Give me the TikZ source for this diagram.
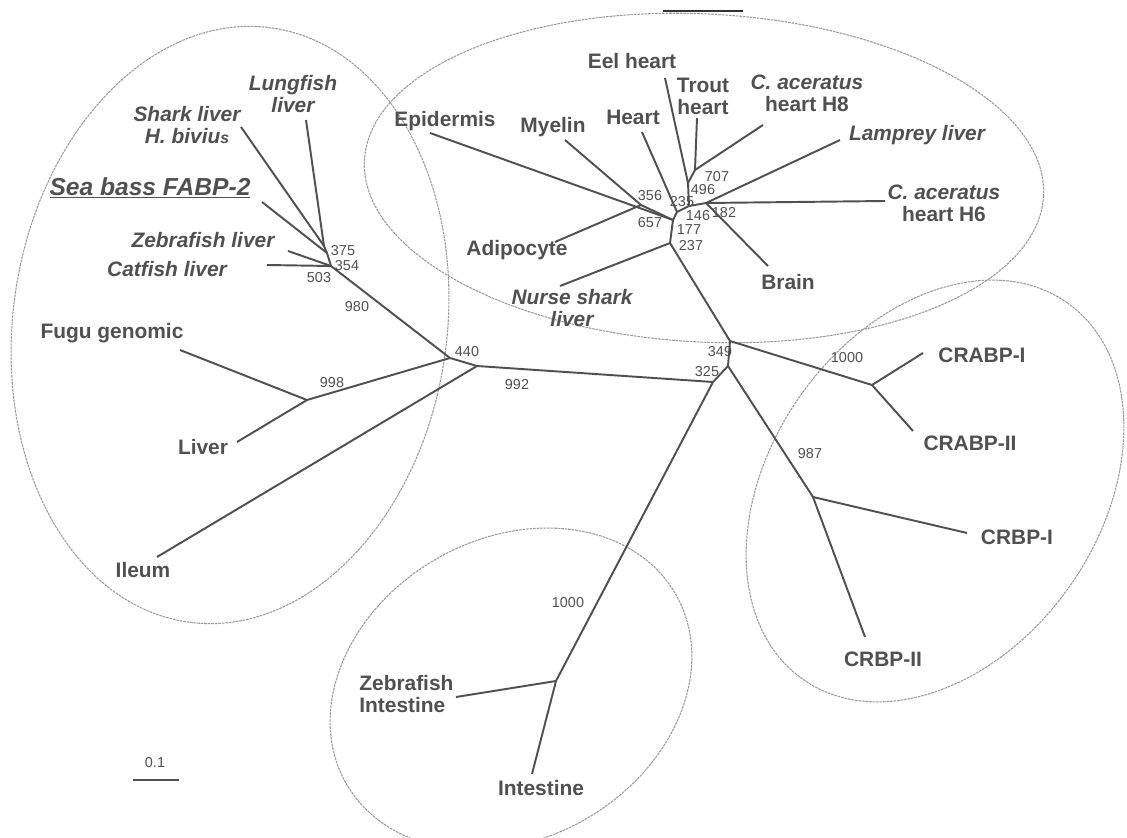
\documentclass[tikz,border=0pt]{standalone}
\usepackage{fontspec}
\setmainfont{Liberation Sans}
\definecolor{ink}{HTML}{505050}
\definecolor{ringc}{HTML}{9A9A9A}
\tikzset{
  lab/.style={font=\fontsize{11.9}{12.5}\selectfont\bfseries, text=ink, inner sep=0pt, align=center},
  ilab/.style={lab, font=\fontsize{11.9}{12.5}\selectfont\bfseries\itshape},
  num/.style={font=\fontsize{8.2}{10}\selectfont, text=ink, inner sep=0pt},
  br/.style={draw=ink, line width=1.1pt},
  ringline/.style={draw=ringc, line width=0.6pt, dash pattern=on 1.5pt off 0.5pt}
}
\begin{document}
\begin{tikzpicture}[x=0.02cm,y=-0.02cm]
\clip (0,0) rectangle (1127,838);
\fill[white] (0,0) rectangle (1127,838);

% group outlines
\draw[ringline, rotate around={-8:(230,325)}] (230,325) ellipse [x radius=217, y radius=300];
\draw[ringline, rotate around={-3:(704,178)}] (704,178) ellipse [x radius=340, y radius=164];
\draw[ringline, rotate around={55:(935,491)}] (935,491) ellipse [x radius=230, y radius=165];
\draw[ringline, rotate around={30:(511,689)}] (511,689) ellipse [x radius=190, y radius=150];
\draw[black!80, line width=1.4pt] (663,11) -- (743,11);

% internal nodes
\coordinate (A) at (324,246);
\coordinate (B) at (327,253);
\coordinate (C) at (331,266);
\coordinate (n440) at (450,358);
\coordinate (n998) at (307,400);
\coordinate (n992) at (477,366);
\coordinate (P) at (713,382);
\coordinate (Q) at (728,366);
\coordinate (R) at (730,341);
\coordinate (I) at (556,681);
\coordinate (crbp) at (813,497);
\coordinate (crabp) at (872,385);
\coordinate (n237) at (670,243);
\coordinate (E) at (673,220);
\coordinate (MA) at (641,205);
\coordinate (H) at (677,212);
\coordinate (n146) at (689,206);
\coordinate (n496) at (688,183);
\coordinate (n707) at (695,170);
\coordinate (n182) at (706,203);

% leaf ends
\coordinate (eLung) at (306,120);
\coordinate (eShark) at (241,127);
\coordinate (eSea) at (262,202);
\coordinate (eZl) at (288,251);
\coordinate (eCat) at (267,265);
\coordinate (eFugu) at (180,350);
\coordinate (eLiver) at (237,442);
\coordinate (eIleum) at (157,557);
\coordinate (eZi) at (456,697);
\coordinate (eInt) at (532,774);
\coordinate (eCrbpI) at (967,533);
\coordinate (eCrbpII) at (865,637);
\coordinate (eCrabpI) at (923,353);
\coordinate (eCrabpII) at (913,431);
\coordinate (eNurse) at (560,286);
\coordinate (eEpi) at (430,133);
\coordinate (eMye) at (565,140);
\coordinate (eAdi) at (555,242);
\coordinate (eHeart) at (642,132);
\coordinate (eEel) at (665,78);
\coordinate (eTrout) at (697,118);
\coordinate (eH8) at (763,125);
\coordinate (eLam) at (840,140);
\coordinate (eH6) at (885,201);
\coordinate (eBrain) at (768,266);

% branches
\draw[br] (eLung) -- (A); \draw[br] (eShark) -- (A);
\draw[br] (A) -- (B); \draw[br] (eSea) -- (B);
\draw[br] (B) -- (C); \draw[br] (eZl) -- (C); \draw[br] (eCat) -- (C);
\draw[br] (C) -- (n440);
\draw[br] (n440) -- (n998); \draw[br] (n998) -- (eFugu); \draw[br] (n998) -- (eLiver);
\draw[br] (n440) -- (n992); \draw[br] (n992) -- (eIleum);
\draw[br] (n992) -- (P);
\draw[br] (I) -- (P); \draw[br] (P) -- (Q);
\draw[br] (I) -- (eZi); \draw[br] (I) -- (eInt);
\draw[br] (Q) -- (crbp); \draw[br] (crbp) -- (eCrbpI); \draw[br] (crbp) -- (eCrbpII);
\draw[br] (Q) -- (R);
\draw[br] (R) -- (crabp); \draw[br] (crabp) -- (eCrabpI); \draw[br] (crabp) -- (eCrabpII);
\draw[br] (R) -- (n237); \draw[br] (n237) -- (eNurse);
\draw[br] (n237) -- (E); \draw[br] (E) -- (eEpi);
\draw[br] (E) -- (MA); \draw[br] (MA) -- (eMye); \draw[br] (MA) -- (eAdi);
\draw[br] (E) -- (H); \draw[br] (H) -- (eHeart);
\draw[br] (H) -- (n146);
\draw[br] (n146) -- (n496); \draw[br] (n496) -- (eEel); \draw[br] (n496) -- (n707);
\draw[br] (n707) -- (eTrout); \draw[br] (n707) -- (eH8);
\draw[br] (n146) -- (n182); \draw[br] (n182) -- (eLam); \draw[br] (n182) -- (eH6); \draw[br] (n182) -- (eBrain);

% leaf labels
\node[ilab] (tLung) at (293,94) {Lungfish\\liver};
\node[ilab] (tShark) at (187,125) {Shark liver\\H. biviu{\fontsize{9}{10}\selectfont s}};
\node[ilab, font=\fontsize{14}{15}\selectfont\bfseries\itshape] (tSea) at (150,188) {\underline{Sea bass FABP-2}};
\node[ilab] (tZl) at (203,240) {Zebrafish liver};
\node[ilab] (tCat) at (167,269) {Catfish liver};
\node[lab] (tFugu) at (112,333) {Fugu genomic};
\node[lab] (tLiver) at (203,447) {Liver};
\node[lab] (tIleum) at (143,570) {Ileum};
\node[lab, align=left, anchor=west] (tZi) at (359,694) {Zebrafish\\Intestine};
\node[lab] (tInt) at (541,788) {Intestine};
\node[lab] (tCrbpII) at (883,659) {CRBP-II};
\node[lab] (tCrbpI) at (1017,537) {CRBP-I};
\node[lab] (tCrabpII) at (970,443) {CRABP-II};
\node[lab] (tCrabpI) at (982,355) {CRABP-I};
\node[lab] (tBrain) at (788,282) {Brain};
\node[lab] (tH6) at (944,203) {{\itshape C. aceratus}\\heart H6};
\node[ilab] (tLam) at (917,135) {Lamprey liver};
\node[lab] (tH8) at (807,93) {{\itshape C. aceratus}\\heart H8};
\node[lab] (tTrout) at (703,96) {Trout\\heart};
\node[lab] (tEel) at (632,61) {Eel heart};
\node[lab] (tHeart) at (633,117) {Heart};
\node[lab] (tMye) at (553,127) {Myelin};
\node[lab] (tEpi) at (445,121) {Epidermis};
\node[lab] (tAdi) at (517,250) {Adipocyte};
\node[ilab] (tNurse) at (572,308) {Nurse shark\\liver};

% bootstrap values
\node[num] (b375) at (343,251) {375};
\node[num] (b354) at (347,266) {354};
\node[num] (b503) at (319,278) {503};
\node[num] (b980) at (357,307) {980};
\node[num] (b440) at (467,352) {440};
\node[num] (b998) at (332,383) {998};
\node[num] (b992) at (517,385) {992};
\node[num] (b325) at (707,372) {325};
\node[num] (b349) at (720,352) {349};
\node[num] (b1000a) at (847,358) {1000};
\node[num] (b987) at (810,454) {987};
\node[num] (b1000b) at (568,603) {1000};
\node[num] (b707) at (717,177) {707};
\node[num] (b496) at (703,190) {496};
\node[num] (b356) at (650,196) {356};
\node[num] (b235) at (682,202) {235};
\node[num] (b146) at (698,216) {146};
\node[num] (b182) at (724,213) {182};
\node[num] (b657) at (650,223) {657};
\node[num] (b177) at (689,230) {177};
\node[num] (b237) at (691,246) {237};

% scale bar
\node[num] (scl) at (155,763) {0.1};
\coordinate (s1) at (133,780);
\coordinate (s2) at (179,780);
\draw[draw=ink, line width=0.8pt] (s1) -- (s2);
\end{tikzpicture}
\end{document}
